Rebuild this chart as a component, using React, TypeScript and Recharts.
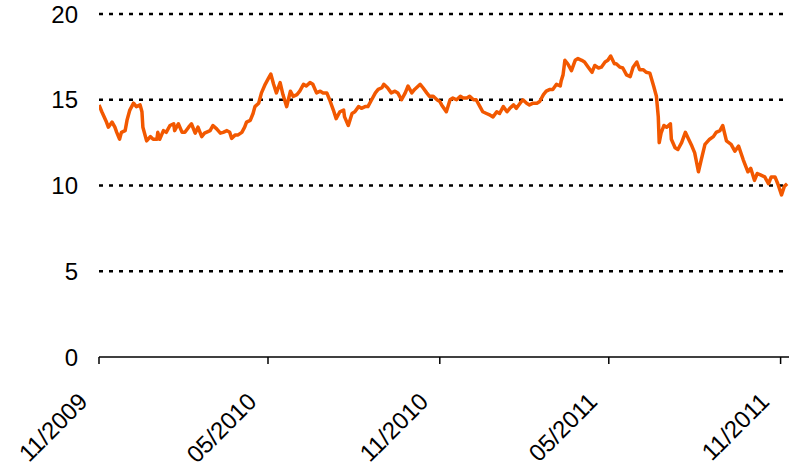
import React from "react";
import { LineChart, Line, XAxis, YAxis, CartesianGrid } from "recharts";

const dates = [
  "2009-11-01", "2009-11-04", "2009-11-09", "2009-11-11", "2009-11-15", "2009-11-18", "2009-11-20",
  "2009-11-23", "2009-11-25", "2009-11-29", "2009-12-01", "2009-12-04", "2009-12-08", "2009-12-11",
  "2009-12-15", "2009-12-17", "2009-12-18", "2009-12-22", "2009-12-26", "2009-12-29", "2010-01-02",
  "2010-01-03", "2010-01-05", "2010-01-09", "2010-01-12", "2010-01-16", "2010-01-20", "2010-01-21",
  "2010-01-25", "2010-01-29", "2010-02-01", "2010-02-05", "2010-02-08", "2010-02-12", "2010-02-15",
  "2010-02-19", "2010-02-22", "2010-02-28", "2010-03-03", "2010-03-07", "2010-03-11", "2010-03-14",
  "2010-03-18", "2010-03-21", "2010-03-23", "2010-03-27", "2010-03-30", "2010-04-03", "2010-04-06",
  "2010-04-08", "2010-04-12", "2010-04-15", "2010-04-17", "2010-04-21", "2010-04-24", "2010-04-28",
  "2010-05-01", "2010-05-04", "2010-05-07", "2010-05-10", "2010-05-14", "2010-05-17", "2010-05-21",
  "2010-05-25", "2010-05-28", "2010-06-01", "2010-06-04", "2010-06-08", "2010-06-11", "2010-06-15",
  "2010-06-18", "2010-06-22", "2010-06-26", "2010-06-29", "2010-07-03", "2010-07-06", "2010-07-10",
  "2010-07-13", "2010-07-17", "2010-07-21", "2010-07-22", "2010-07-26", "2010-07-30", "2010-08-02",
  "2010-08-06", "2010-08-09", "2010-08-13", "2010-08-16", "2010-08-20", "2010-08-24", "2010-08-27",
  "2010-08-31", "2010-09-02", "2010-09-06", "2010-09-10", "2010-09-14", "2010-09-17", "2010-09-21",
  "2010-09-25", "2010-09-28", "2010-10-02", "2010-10-05", "2010-10-11", "2010-10-14", "2010-10-18",
  "2010-10-21", "2010-10-25", "2010-10-29", "2010-11-01", "2010-11-03", "2010-11-08", "2010-11-12",
  "2010-11-15", "2010-11-19", "2010-11-23", "2010-11-26", "2010-11-30", "2010-12-03", "2010-12-07",
  "2010-12-10", "2010-12-14", "2010-12-17", "2010-12-21", "2010-12-25", "2010-12-28", "2011-01-01",
  "2011-01-04", "2011-01-08", "2011-01-12", "2011-01-15", "2011-01-19", "2011-01-22", "2011-01-26",
  "2011-01-29", "2011-02-02", "2011-02-05", "2011-02-09", "2011-02-13", "2011-02-16", "2011-02-20",
  "2011-02-23", "2011-02-27", "2011-03-02", "2011-03-06", "2011-03-10", "2011-03-11", "2011-03-13",
  "2011-03-15", "2011-03-18", "2011-03-22", "2011-03-26", "2011-03-29", "2011-04-02", "2011-04-05",
  "2011-04-09", "2011-04-13", "2011-04-16", "2011-04-20", "2011-04-23", "2011-04-27", "2011-04-30",
  "2011-05-03", "2011-05-07", "2011-05-09", "2011-05-13", "2011-05-16", "2011-05-20", "2011-05-24",
  "2011-05-27", "2011-05-31", "2011-06-03", "2011-06-07", "2011-06-10", "2011-06-14", "2011-06-18",
  "2011-06-21", "2011-06-23", "2011-06-24", "2011-06-26", "2011-06-29", "2011-07-02", "2011-07-06",
  "2011-07-07", "2011-07-11", "2011-07-14", "2011-07-18", "2011-07-22", "2011-07-25", "2011-07-29",
  "2011-08-01", "2011-08-05", "2011-08-08", "2011-08-12", "2011-08-17", "2011-08-21", "2011-08-24",
  "2011-08-28", "2011-08-31", "2011-09-04", "2011-09-09", "2011-09-13", "2011-09-17", "2011-09-22",
  "2011-09-27", "2011-09-30", "2011-10-04", "2011-10-07", "2011-10-11", "2011-10-15", "2011-10-19",
  "2011-10-22", "2011-10-26", "2011-10-29", "2011-11-02", "2011-11-05", "2011-11-08",
];

const values = [
  14.7, 14.3, 13.7, 13.4, 13.7, 13.4, 13.1,
  12.7, 13.1, 13.2, 13.8, 14.4, 14.8, 14.6,
  14.7, 14.3, 13.4, 12.6, 12.85, 12.7, 12.7,
  13.1, 12.7, 13.2, 13.1, 13.5, 13.6, 13.2,
  13.6, 13.1, 13.1, 13.4, 13.6, 13.05, 13.4,
  12.85, 13.05, 13.2, 13.5, 13.3, 13.05, 13.1,
  13.2, 13.1, 12.75, 12.95, 12.95, 13.1, 13.4,
  13.7, 13.8, 14.2, 14.6, 14.8, 15.4, 15.9,
  16.2, 16.5, 15.9, 15.4, 16.0, 15.3, 14.6,
  15.5, 15.2, 15.3, 15.5, 15.9, 15.8, 16.0,
  15.9, 15.4, 15.5, 15.4, 15.4, 15.0, 14.4,
  13.9, 14.3, 14.4, 14.0, 13.5, 14.2, 14.3,
  14.6, 14.5, 14.6, 14.6, 15.0, 15.4, 15.6,
  15.7, 15.9, 15.7, 15.4, 15.5, 15.4, 15.0,
  15.4, 15.8, 15.4, 15.6, 15.9, 15.7, 15.4,
  15.2, 15.2, 15.0, 14.9, 14.7, 14.3, 15.0,
  15.1, 15.0, 15.2, 15.1, 15.1, 15.2, 15.0,
  15.0, 14.6, 14.3, 14.2, 14.1, 14.0, 14.3,
  14.2, 14.6, 14.3, 14.5, 14.7, 14.5, 14.8,
  15.0, 14.8, 14.7, 14.8, 14.8, 14.9, 15.3,
  15.5, 15.6, 15.6, 15.9, 15.8, 16.1, 16.45,
  17.3, 17.1, 16.7, 17.3, 17.4, 17.3, 17.2,
  16.9, 16.6, 17.0, 16.85, 16.9, 17.2, 17.3,
  17.55, 17.1, 17.1, 16.9, 16.85, 16.45, 16.35,
  16.9, 17.2, 16.75, 16.75, 16.6, 16.55, 15.8,
  15.2, 14.0, 12.5, 13.05, 13.5, 13.4, 13.6,
  12.7, 12.2, 12.1, 12.5, 13.1, 12.75, 12.3,
  11.9, 10.8, 11.5, 12.4, 12.7, 12.85, 13.1,
  13.2, 13.5, 12.6, 12.4, 12.0, 12.3, 11.5,
  10.8, 11.0, 10.3, 10.7, 10.6, 10.5, 10.1,
  10.5, 10.5, 10.1, 9.45, 9.95, 10.1,
];

const tickDates = ["2009-11-01", "2010-05-01", "2010-11-01", "2011-05-01", "2011-11-01"];
const tickLabels = ["11/2009", "05/2010", "11/2010", "05/2011", "11/2011"];
const yTicks = [0, 5, 10, 15, 20];
const gridValues = [5, 10, 15, 20];
const domainStart = "2009-11-01";
const domainEnd = "2011-11-10";

const FONT = "'Liberation Sans', Arial, sans-serif";

const data = dates.map((d, i) => ({ t: Date.parse(d), value: values[i] }));
const tickTimes = tickDates.map((d) => Date.parse(d));

// rotated date labels, anchored below-left of each tick
function DateTick(props: any) {
  const { x, y, payload } = props;
  const idx = tickTimes.indexOf(payload.value);
  const ax = x - 10;
  const ay = y + 39;
  return (
    <text
      x={ax}
      y={ay}
      transform={`rotate(-45, ${ax}, ${ay})`}
      textAnchor="end"
      fontSize={24}
      fontFamily={FONT}
      fill="#000"
    >
      {idx >= 0 ? tickLabels[idx] : ""}
    </text>
  );
}

export default function App() {
  return (
    <div style={{ position: "absolute", left: 0, top: 0, background: "#fff" }}>
      <LineChart
        width={789}
        height={474}
        data={data}
        margin={{ top: 14, right: 0, left: 0, bottom: 0 }}
      >
        <CartesianGrid
          vertical={false}
          horizontalValues={gridValues}
          stroke="#000"
          strokeWidth={2.5}
          strokeDasharray="4 6"
        />
        <XAxis
          dataKey="t"
          type="number"
          domain={[Date.parse(domainStart), Date.parse(domainEnd)]}
          ticks={tickTimes}
          interval={0}
          height={117}
          tickSize={7}
          tickMargin={0}
          axisLine={{ stroke: "#000", strokeWidth: 1.5 }}
          tickLine={{ stroke: "#000", strokeWidth: 1.5 }}
          tick={<DateTick />}
          allowDataOverflow
        />
        <YAxis
          domain={[0, 20]}
          ticks={yTicks}
          width={99}
          axisLine={false}
          tickLine={false}
          tickSize={0}
          tickMargin={21}
          tick={{ fontSize: 24, fill: "#000", fontFamily: FONT }}
        />
        <Line
          type="linear"
          dataKey="value"
          stroke="#F25800"
          strokeWidth={3.5}
          strokeLinejoin="round"
          dot={false}
          isAnimationActive={false}
        />
      </LineChart>
    </div>
  );
}
